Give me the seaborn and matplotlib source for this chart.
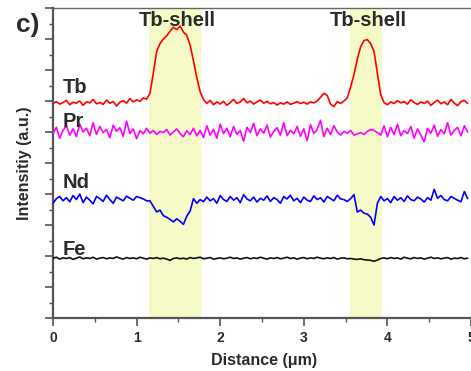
import numpy as np
import pandas as pd
import matplotlib
matplotlib.use("Agg")
import matplotlib.pyplot as plt
import seaborn as sns

step = 0.04  # sampling step along distance (um)

tb = [6.92, 6.98, 6.90, 6.95, 7.02, 6.88, 6.96, 6.93, 7.00, 6.86,
      6.97, 6.94, 7.05, 6.91, 6.95, 6.89, 7.03, 6.93, 6.98, 6.84,
      6.96, 7.01, 6.93, 7.08, 6.97, 7.04, 6.99, 7.10, 7.06,
      7.25, 7.90, 8.60, 8.85, 9.00, 9.10, 9.25, 9.38, 9.30, 9.42,
      9.22, 9.12, 8.80, 8.30, 7.75, 7.30, 7.05,
      6.92, 7.02, 6.88, 6.97, 6.90, 6.99, 6.86, 6.95, 7.05, 6.92,
      6.97, 7.08, 6.94, 7.00, 6.90, 6.97, 7.03, 6.93, 6.99, 6.91,
      6.95, 6.87, 6.94, 6.90, 6.97, 6.89, 6.93, 6.98, 6.92, 6.96,
      6.90, 6.97, 6.94, 7.00, 7.12, 7.25, 7.18, 6.90, 6.82, 6.98, 6.92,
      7.00, 7.10, 7.45, 7.85, 8.35, 8.75, 8.95, 8.98, 8.85, 8.60,
      7.90, 7.20, 6.95,
      6.88, 6.97, 6.92, 7.01, 6.94, 6.98, 6.90, 7.04, 6.95, 6.89,
      6.97, 6.92, 7.00, 6.86, 6.95, 7.03, 6.91, 6.97, 6.88, 7.05,
      6.93, 6.85, 6.98, 7.02, 6.92]

pr = [5.95, 6.15, 5.80, 6.05, 6.20, 5.90, 6.10, 5.85, 6.25, 6.00,
      6.12, 5.88, 6.30, 5.92, 6.18, 5.98, 6.08, 5.82, 6.22, 6.02,
      6.14, 5.86, 6.35, 5.95, 6.10, 5.78, 6.05, 5.94, 6.12,
      5.96, 6.05, 5.92, 6.02, 5.98, 6.08, 5.90, 6.00, 6.10, 5.95,
      5.85, 6.04, 5.92, 6.12, 5.88, 6.05, 5.82,
      6.20, 5.90, 6.08, 5.80, 6.25, 5.95, 6.12, 5.85, 6.18, 5.92,
      6.05, 5.70, 6.15, 5.98, 6.28, 5.88, 6.10, 5.96, 6.22, 5.84,
      6.02, 6.14, 5.90, 6.30, 5.88, 6.06, 5.94, 6.18, 5.86, 6.10,
      5.72, 6.24, 5.95, 6.08, 6.38, 5.85, 6.12, 5.92, 6.20, 6.00, 5.90,
      6.02, 5.96, 6.05, 5.90, 5.94, 5.98, 5.92, 6.02, 6.08, 6.05,
      5.98, 5.90, 6.20,
      5.85, 6.15, 5.92, 6.25, 5.88, 6.05, 5.95, 6.18, 5.80, 6.10,
      5.90, 5.68, 6.12, 5.96, 6.22, 5.86, 6.08, 5.94, 6.30, 5.90,
      6.05, 6.15, 5.88, 6.20, 6.00]

nd = [3.70, 3.85, 3.92, 3.78, 3.88, 3.75, 3.95, 3.82, 4.00, 3.72,
      3.90, 3.80, 3.68, 3.92, 3.85, 3.76, 3.96, 3.82, 3.70, 3.90,
      3.84, 3.78, 3.93, 3.86, 3.80, 3.92, 3.88, 3.84, 3.78,
      3.78, 3.60, 3.42, 3.48, 3.30, 3.25, 3.18, 3.10, 3.20, 3.12,
      3.02, 3.28, 3.45, 3.85, 3.70, 3.82, 3.75,
      3.90, 3.78, 3.85, 3.70, 3.95, 3.82, 3.76, 3.92, 3.80, 3.88,
      3.72, 3.98, 3.84, 3.78, 3.90, 3.74, 3.86, 3.80, 3.94, 3.76,
      3.88, 3.82, 3.70, 3.92, 3.84, 3.96, 3.78, 3.86, 3.72, 3.90,
      3.80, 3.76, 3.94, 3.82, 3.88, 3.74, 3.92, 3.85, 3.78, 3.96, 3.84,
      3.82, 3.76, 3.85, 3.98, 3.42, 3.48, 3.38, 3.35, 3.25, 3.00,
      3.70, 3.92, 3.78,
      3.85, 3.72, 3.92, 3.80, 3.88, 3.76, 3.94, 3.82, 3.78, 3.90,
      3.84, 3.74, 3.88, 3.80, 4.15, 3.86, 3.95, 3.82, 3.78, 3.92,
      3.86, 3.80, 3.75, 4.08, 3.85]

fe = [1.93, 1.96, 1.90, 1.94, 1.92, 1.95, 1.89, 1.93, 1.97, 1.91,
      1.94, 1.92, 1.96, 1.90, 1.93, 1.95, 1.91, 1.94, 1.92, 1.97,
      1.93, 1.90, 1.95, 1.92, 1.94, 1.91, 1.96, 1.93, 1.90, 1.94,
      1.92, 1.95, 1.91, 1.93, 1.90, 1.86, 1.92, 1.94, 1.91, 1.93,
      1.90, 1.95, 1.92, 1.94, 1.96, 1.91, 1.93, 1.95, 1.90, 1.92,
      1.94, 1.91, 1.93, 1.96, 1.92, 1.94, 1.90, 1.93, 1.95, 1.91,
      1.94, 1.92, 1.96, 1.93, 1.90, 1.94, 1.92, 1.95, 1.91, 1.93,
      1.96, 1.92, 1.94, 1.90, 1.93, 1.95, 1.91, 1.94, 1.92, 1.96,
      1.93, 1.91, 1.94, 1.92, 1.95, 1.90, 1.93, 1.94, 1.91, 1.92,
      1.90, 1.89, 1.91, 1.88, 1.87, 1.86, 1.83, 1.87, 1.92, 1.94,
      1.91, 1.95, 1.92, 1.94, 1.90, 1.96, 1.93, 1.91, 1.95, 1.92,
      1.94, 1.90, 1.93, 1.96, 1.92, 1.94, 1.91, 1.93, 1.95, 1.90,
      1.93, 1.92, 1.95, 1.91, 1.93]

series_names = ["Tb", "Pr", "Nd", "Fe"]
series_values = [tb, pr, nd, fe]
series_colors = ["#ff0000", "#ff00ff", "#0000ff", "#111111"]
label_pos = [(0.12, 7.26), (0.12, 6.16), (0.12, 4.19), (0.12, 2.03)]

shell_bands = [(1.15, 1.77), (3.55, 3.94)]
shell_label_x = [1.49, 3.77]
shell_label = "Tb-shell"

xticks = [0, 1, 2, 3, 4, 5]

sns.set_style("ticks")
plt.rcParams["font.family"] = ["Liberation Sans", "DejaVu Sans"]
plt.rcParams["font.weight"] = "bold"

fig = plt.figure(figsize=(4.71, 3.71), dpi=100)
ax = fig.add_axes([53 / 471, 1 - 318 / 371, 1 - 53 / 471, 310 / 371])

for (a, b) in shell_bands:
    ax.axvspan(a, b, color="#f5fac6", zorder=0, lw=0)

for name, vals, col in zip(series_names, series_values, series_colors):
    df = pd.DataFrame({"x": np.arange(len(vals)) * step, "y": vals})
    sns.lineplot(data=df, x="x", y="y", ax=ax, color=col, lw=1.2, zorder=3)

txtcol = "#2b2b2b"
for name, (lx, ly) in zip(series_names, label_pos):
    ax.text(lx, ly, name, fontsize=14.5, fontweight="bold", color=txtcol,
            ha="left", va="baseline")
for sx in shell_label_x:
    ax.text(sx, 9.42, shell_label, fontsize=14.5, fontweight="bold",
            color=txtcol, ha="center", va="baseline")

ax.set_xlim(0, 4.98)
ax.set_ylim(0, 10)
ax.set_xticks(xticks)
ax.set_xticks(np.arange(0.5, 5, 1.0), minor=True)
ax.set_yticks(np.arange(0, 11, 1))
ax.set_yticks(np.arange(0.5, 10, 1.0), minor=True)
ax.set_yticklabels([])
ax.set_xticklabels([str(t) for t in xticks], fontsize=10, fontweight="bold",
                   color=txtcol)
ax.set_xlabel("")
ax.set_ylabel("")

spcol = "#555555"
for s in ["left", "bottom"]:
    ax.spines[s].set_color(spcol)
    ax.spines[s].set_linewidth(1.6)
ax.spines["top"].set_visible(True)
ax.spines["top"].set_color("#666666")
ax.spines["top"].set_linewidth(1.0)
ax.spines["right"].set_visible(False)
ax.tick_params(axis="both", which="major", length=6, width=1.2, color=spcol,
               direction="out")
ax.tick_params(axis="both", which="minor", length=3, width=1.0, color=spcol,
               direction="out")
ax.tick_params(axis="x", which="major", pad=3)

fig.text(264 / 471, 1 - 360 / 371, "Distance (μm)", fontsize=11.5,
         fontweight="bold", color=txtcol, ha="center", va="center")
fig.text(25 / 471, 1 - 163 / 371, "Intensitiy (a.u.)", fontsize=11.5,
         fontweight="bold", color=txtcol, ha="center", va="center",
         rotation=90)
fig.text(16 / 471, 1 - 25 / 371, "c)", fontsize=19, fontweight="bold",
         color=txtcol, ha="left", va="center")

fig.savefig("out.png", dpi=100)
